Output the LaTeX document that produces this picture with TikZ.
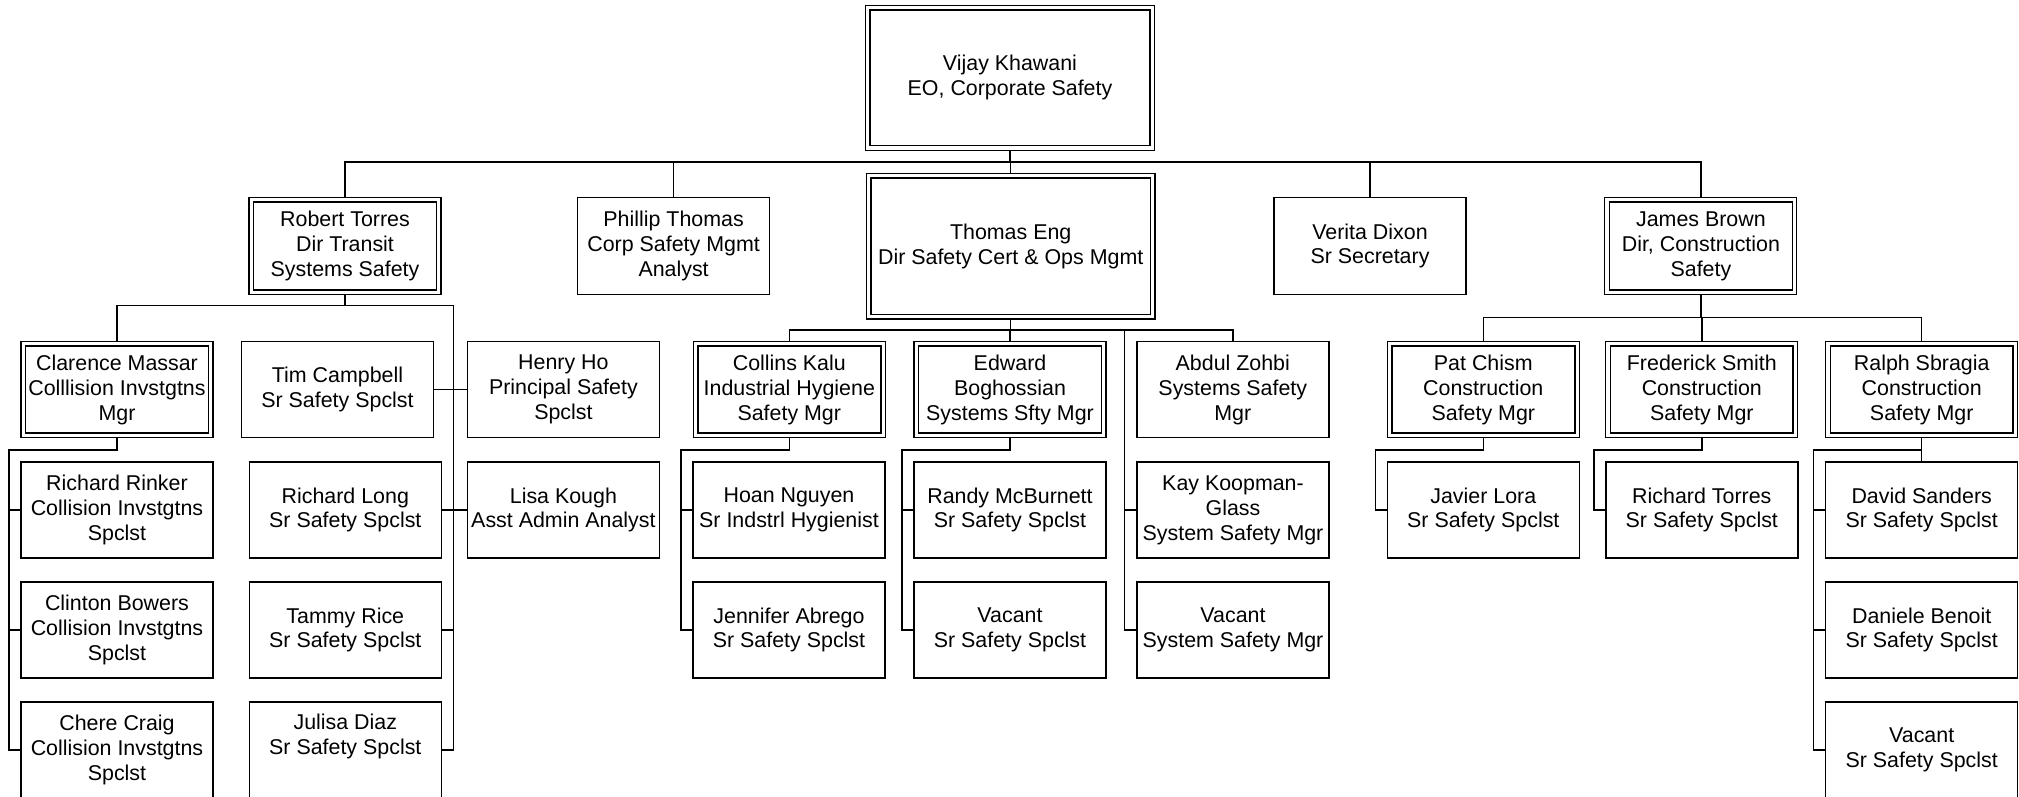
\documentclass[tikz,border=0pt]{standalone}
\usepackage{fontspec}
\setmainfont{Liberation Sans}
\usetikzlibrary{calc}
\begin{document}
\begin{tikzpicture}[x=1pt,y=-1pt,
  box/.style={draw, line width=1.5pt, rectangle, minimum width=192pt, minimum height=96pt,
    inner sep=0pt, outer sep=0pt, align=center, font=\fontsize{21.4}{24.9}\selectfont},
  mgr/.style={box, line width=1.1pt,
    path picture={\draw[line width=1.6pt]
      ([shift={(4.6pt,-4.5pt)}]path picture bounding box.north west) rectangle
      ([shift={(-4.6pt,4.5pt)}]path picture bounding box.south east);}},
  conn/.style={line width=1.5pt}]
\useasboundingbox (0,0) rectangle (2019,797);

% level 0 / 1
\node[mgr, minimum width=289pt, minimum height=144.5pt] (vijay) at (1010,77.9) {Vijay Khawani\\EO, Corporate Safety};
\node[mgr, minimum width=288.5pt, minimum height=145.5pt] (eng) at (1010.7,246.2) {Thomas Eng\\Dir Safety Cert \& Ops Mgmt};
\node[mgr, minimum height=96.6pt] (robert) at (345,246) {Robert Torres\\Dir Transit\\Systems Safety};
\node[box, minimum height=96.6pt] (phillip) at (673.6,246) {Phillip Thomas\\Corp Safety Mgmt\\Analyst};
\node[box, minimum height=96.6pt] (verita) at (1370,246) {Verita Dixon\\Sr Secretary};
\node[mgr, minimum height=96.6pt] (james) at (1700.9,246) {James Brown\\Dir, Construction\\Safety};

% level 2
\node[mgr] (clar) at (117,389.7) {Clarence Massar\\Colllision Invstgtns\\Mgr};
\node[box] (tim) at (337.5,389.7) {Tim Campbell\\Sr Safety Spclst};
\node[box] (henry) at (563.4,389.7) {Henry Ho\\Principal Safety\\Spclst};
\node[mgr] (collins) at (789.3,389.7) {Collins Kalu\\Industrial Hygiene\\Safety Mgr};
\node[mgr] (edward) at (1010,389.7) {Edward\\Boghossian\\Systems Sfty Mgr};
\node[box] (abdul) at (1232.8,389.7) {Abdul Zohbi\\Systems Safety\\Mgr};
\node[mgr] (pat) at (1483.3,389.7) {Pat Chism\\Construction\\Safety Mgr};
\node[mgr] (fred) at (1701.8,389.7) {Frederick Smith\\Construction\\Safety Mgr};
\node[mgr] (ralph) at (1921.7,389.7) {Ralph Sbragia\\Construction\\Safety Mgr};

% level 3
\node[box] (rinker) at (117,510) {Richard Rinker\\Collision Invstgtns\\Spclst};
\node[box] (bowers) at (117,630) {Clinton Bowers\\Collision Invstgtns\\Spclst};
\node[box] (chere) at (117,750) {Chere Craig\\Collision Invstgtns\\Spclst};
\node[box] (rlong) at (345.3,510) {Richard Long\\Sr Safety Spclst};
\node[box] (tammy) at (345.3,630) {Tammy Rice\\Sr Safety Spclst};
\node[box] (julisa) at (345.3,750) {Julisa Diaz\\Sr Safety Spclst\\\strut};
\node[box] (lisa) at (563.4,510) {Lisa Kough\\Asst Admin Analyst};
\node[box] (hoan) at (789,510) {Hoan Nguyen\\Sr Indstrl Hygienist};
\node[box] (jennifer) at (789,630) {Jennifer Abrego\\Sr Safety Spclst};
\node[box] (randy) at (1010,510) {Randy McBurnett\\Sr Safety Spclst};
\node[box] (vacanta) at (1010,630) {Vacant\\Sr Safety Spclst};
\node[box] (kay) at (1233,510) {Kay Koopman-\\Glass\\System Safety Mgr};
\node[box] (vacantb) at (1233,630) {Vacant\\System Safety Mgr};
\node[box] (javier) at (1483.3,510) {Javier Lora\\Sr Safety Spclst};
\node[box] (rtorres) at (1701.8,510) {Richard Torres\\Sr Safety Spclst};
\node[box] (david) at (1921.7,510) {David Sanders\\Sr Safety Spclst};
\node[box] (daniele) at (1921.7,630) {Daniele Benoit\\Sr Safety Spclst};
\node[box] (vacantc) at (1921.7,750) {Vacant\\Sr Safety Spclst};

% top connectors
\coordinate (topbar) at (1010,162);
\draw[conn] (vijay.south) -- (topbar);
\draw[conn] (robert.north) |- (topbar) -| (james.north);
\draw[conn] (phillip.north) -- (phillip.north |- topbar);
\draw[conn] (eng.north) -- (eng.north |- topbar);
\draw[conn] (verita.north) -- (verita.north |- topbar);

% Robert Torres group
\coordinate (rbar) at (345,305.3);
\coordinate (rbus) at (453.5,305.3);
\draw[conn] (robert.south) -- (rbar);
\draw[conn] (clar.north) |- (rbus) |- (julisa.east);
\draw[conn] (tammy.east) -- (tammy.east -| rbus);
\draw[conn] (tim.east) -- (henry.west);
\draw[conn] (rlong.east) -- (lisa.west);

% Clarence group
\coordinate (cbus) at (8.9,450);
\draw[conn] (clar.south) |- (cbus) |- (chere.west);
\draw[conn] (rinker.west) -- (rinker.west -| cbus);
\draw[conn] (bowers.west) -- (bowers.west -| cbus);

% Thomas Eng group
\coordinate (ebar) at (1010.7,330);
\coordinate (abus) at (1124.5,330);
\draw[conn] (eng.south) -- (ebar);
\draw[conn] (collins.north) |- (ebar) -| (abdul.north);
\draw[conn] (edward.north) -- (edward.north |- ebar);
\draw[conn] (abus) |- (vacantb.west);
\draw[conn] (kay.west) -- (kay.west -| abus);

% Collins group
\coordinate (colbus) at (681,450);
\draw[conn] (collins.south) |- (colbus) |- (jennifer.west);
\draw[conn] (hoan.west) -- (hoan.west -| colbus);

% Edward group
\coordinate (edbus) at (902,450);
\draw[conn] (edward.south) |- (edbus) |- (vacanta.west);
\draw[conn] (randy.west) -- (randy.west -| edbus);

% James Brown group
\coordinate (jbar) at (1700.9,317.7);
\draw[conn] (james.south) -- (jbar);
\draw[conn] (pat.north) |- (jbar) -| (ralph.north);
\draw[conn] (fred.north) -- (fred.north |- jbar);

% Pat, Frederick, Ralph groups
\coordinate (pbus) at (1375.3,450);
\draw[conn] (pat.south) |- (pbus) |- (javier.west);
\coordinate (fbus) at (1593.8,450);
\draw[conn] (fred.south) |- (fbus) |- (rtorres.west);
\coordinate (ralbus) at (1813.7,450);
\draw[conn] (ralph.south) -- (david.north);
\draw[conn] (ralph.south |- ralbus) -- (ralbus) |- (vacantc.west);
\draw[conn] (daniele.west) -- (daniele.west -| ralbus);
\draw[conn] (david.west) -- (david.west -| ralbus);
\end{tikzpicture}
\end{document}
